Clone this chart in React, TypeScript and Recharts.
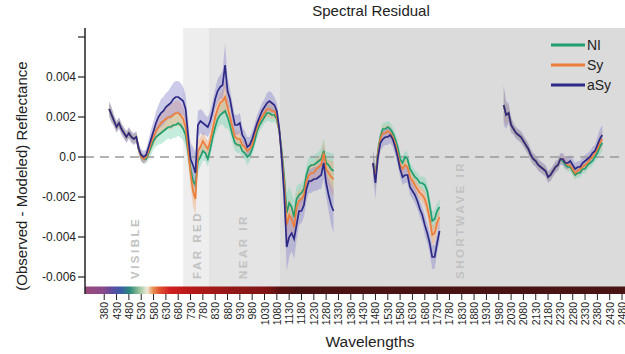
import React from "react";
import { ComposedChart, Line, Area, XAxis, YAxis, ReferenceArea, ReferenceLine } from "recharts";

// wavelengths (nm) of each measured segment; the water bands between them are gaps
const wl1 = [
  400, 410, 420, 430, 440, 450, 460, 470, 480, 490, 500, 510, 520, 530, 540, 550, 560, 570, 580, 590,
  600, 610, 620, 630, 640, 650, 660, 670, 680, 690, 700, 710, 720, 730, 740, 750, 760, 770, 780, 790,
  800, 810, 820, 830, 840, 850, 860, 870, 880, 890, 900, 910, 920, 930, 940, 950, 960, 970, 980, 990,
  1000, 1010, 1020, 1030, 1040, 1050, 1060, 1070, 1080, 1090, 1100, 1110, 1120, 1130, 1140, 1150, 1160,
  1170, 1180, 1190, 1200, 1210, 1220, 1230, 1240, 1250, 1260, 1270, 1280, 1290, 1300, 1310,
];
const wl2 = [
  1470, 1480, 1490, 1500, 1510, 1520, 1530, 1540, 1550, 1560, 1570, 1580, 1590, 1600, 1610, 1620, 1630,
  1640, 1650, 1660, 1670, 1680, 1690, 1700, 1710, 1720, 1730, 1740,
];
const wl3 = [
  2000, 2010, 2020, 2030, 2040, 2050, 2060, 2070, 2080, 2090, 2100, 2110, 2120, 2130, 2140, 2150, 2160,
  2170, 2180, 2190, 2200, 2210, 2220, 2230, 2240, 2250, 2260, 2270, 2280, 2290, 2300, 2310, 2320, 2330,
  2340, 2350, 2360, 2370, 2380, 2390, 2400,
];

const aSy1 = [
  0.0024, 0.0021, 0.0018, 0.0015, 0.0017, 0.0014, 0.0012, 0.001, 0.0012, 0.001, 0.0009, 0.001, 0.0004, 0.0001,
  0.0, 0.0001, 0.0005, 0.0009, 0.0013, 0.0017, 0.002, 0.0022, 0.0023, 0.0025, 0.0026, 0.0027, 0.0029, 0.003,
  0.003, 0.0029, 0.0028, 0.0024, 0.0011, -0.0001, -0.0004, -0.0008, 0.0016, 0.0018, 0.0017, 0.0016, 0.0015,
  0.0018, 0.0023, 0.0029, 0.0033, 0.0035, 0.0036, 0.0046, 0.0033, 0.0029, 0.0022, 0.0016, 0.0016, 0.0017,
  0.0011, 0.0009, 0.0005, 0.0006, 0.0009, 0.0013, 0.0017, 0.002, 0.0023, 0.0025, 0.0027, 0.0028, 0.0027,
  0.0026, 0.0023, 0.0014, -0.0001, -0.0019, -0.0045, -0.004, -0.0038, -0.0041, -0.0034, -0.0027, -0.0027,
  -0.0024, -0.0016, -0.0012, -0.0012, -0.0011, -0.0011, -0.001, -0.0009, -0.0003, -0.0013, -0.0019, -0.0024,
  -0.0027,
];
const sy1 = [
  0.0024, 0.0021, 0.0018, 0.0015, 0.0017, 0.0014, 0.0012, 0.001, 0.0012, 0.001, 0.0009, 0.001, 0.0004, 0.0,
  -0.0001, 0.0, 0.0003, 0.0007, 0.001, 0.0013, 0.0015, 0.0017, 0.0018, 0.0019, 0.002, 0.002, 0.0021, 0.0022,
  0.0022, 0.0021, 0.0019, 0.0015, 0.0004, -0.0008, -0.0017, -0.0021, 0.0003, 0.0005, 0.0008, 0.0006, 0.0004,
  0.0008, 0.0014, 0.002, 0.0024, 0.0027, 0.0028, 0.003, 0.0025, 0.002, 0.0015, 0.001, 0.0009, 0.0009, 0.0006,
  0.0005, 0.0003, 0.0004, 0.0006, 0.0011, 0.0015, 0.0018, 0.002, 0.0022, 0.0024, 0.0024, 0.0023, 0.0023,
  0.002, 0.0013, 0.0001, -0.0013, -0.0034, -0.0029, -0.0031, -0.0035, -0.0025, -0.0022, -0.0021, -0.0019,
  -0.0012, -0.0009, -0.0008, -0.0008, -0.0006, -0.0005, -0.0004, 0.0002, -0.0006, -0.0008, -0.001, -0.0011,
];
const ni1 = [
  0.0024, 0.0021, 0.0018, 0.0015, 0.0017, 0.0014, 0.0012, 0.001, 0.0012, 0.001, 0.0009, 0.001, 0.0004, 0.0,
  -0.0001, -0.0001, 0.0002, 0.0005, 0.0008, 0.001, 0.0011, 0.0012, 0.0013, 0.0014, 0.0015, 0.0015, 0.0016,
  0.0016, 0.0017, 0.0016, 0.0014, 0.0011, 0.0003, -0.0006, -0.0012, -0.0014, -0.0002, 0.0, 0.0003, 0.0002,
  -0.0001, 0.0004, 0.001, 0.0015, 0.0019, 0.0021, 0.0022, 0.0023, 0.002, 0.0016, 0.0011, 0.0007, 0.0006,
  0.0006, 0.0003, 0.0002, 0.0, 0.0001, 0.0004, 0.0008, 0.0013, 0.0016, 0.0018, 0.002, 0.0022, 0.0022, 0.0021,
  0.0021, 0.0019, 0.0013, 0.0003, -0.001, -0.0028, -0.0023, -0.0025, -0.003, -0.0021, -0.0019, -0.0018,
  -0.0016, -0.0009, -0.0005, -0.0004, -0.0004, -0.0003, -0.0002, -0.0001, 0.0003, -0.0003, -0.0004, -0.0006,
  -0.0007,
];
const spread1 = [
  0.0004, 0.0004, 0.0003, 0.0003, 0.0003, 0.0003, 0.0003, 0.0003, 0.0003, 0.0003, 0.0003, 0.0003, 0.0003,
  0.0003, 0.0003, 0.0003, 0.0004, 0.0005, 0.0005, 0.0006, 0.0006, 0.0007, 0.0007, 0.0007, 0.0007, 0.0008,
  0.0008, 0.0008, 0.0008, 0.0008, 0.0007, 0.0007, 0.0007, 0.0008, 0.0009, 0.001, 0.0007, 0.0006, 0.0006,
  0.0005, 0.0005, 0.0005, 0.0005, 0.0005, 0.0006, 0.0006, 0.0007, 0.0011, 0.0007, 0.0005, 0.0005, 0.0005,
  0.0005, 0.0005, 0.0004, 0.0004, 0.0005, 0.0004, 0.0004, 0.0004, 0.0004, 0.0004, 0.0004, 0.0004, 0.0005,
  0.0005, 0.0005, 0.0004, 0.0004, 0.0004, 0.0005, 0.0008, 0.0012, 0.001, 0.0009, 0.001, 0.0008, 0.0007,
  0.0006, 0.0006, 0.0006, 0.0006, 0.0006, 0.0006, 0.0006, 0.0006, 0.0007, 0.0008, 0.0007, 0.0008, 0.001,
  0.0011,
];

const aSy2 = [
  -0.0003, -0.0013, 0.0, 0.0007, 0.0009, 0.001, 0.001, 0.0011, 0.0009, 0.0005, 0.0, -0.0006, -0.001, -0.0009,
  -0.0009, -0.0015, -0.0017, -0.0019, -0.0022, -0.0026, -0.0029, -0.0034, -0.0038, -0.0043, -0.005, -0.005,
  -0.0043, -0.0037,
];
const sy2 = [
  -0.0003, -0.0011, 0.0002, 0.0009, 0.0012, 0.0012, 0.0013, 0.0012, 0.001, 0.0007, 0.0002, -0.0004, -0.0006,
  -0.0004, -0.0005, -0.001, -0.0012, -0.0014, -0.0016, -0.0018, -0.0019, -0.0021, -0.0025, -0.0031, -0.0039,
  -0.0038, -0.0033, -0.003,
];
const ni2 = [
  -0.0003, -0.001, 0.0003, 0.001, 0.0014, 0.0014, 0.0015, 0.0014, 0.0012, 0.0009, 0.0005, -0.0001, -0.0003,
  0.0, -0.0001, -0.0006, -0.0008, -0.001, -0.0011, -0.0013, -0.0013, -0.0014, -0.0017, -0.0024, -0.0032,
  -0.0031, -0.0027, -0.0025,
];
const spread2 = [
  0.0007, 0.0008, 0.0005, 0.0004, 0.0004, 0.0004, 0.0004, 0.0004, 0.0004, 0.0004, 0.0004, 0.0004, 0.0004,
  0.0004, 0.0004, 0.0004, 0.0004, 0.0004, 0.0004, 0.0004, 0.0004, 0.0005, 0.0005, 0.0005, 0.0006, 0.0006,
  0.0005, 0.0005,
];

const aSy3 = [
  0.0026, 0.0021, 0.0022, 0.0016, 0.0014, 0.0012, 0.0011, 0.001, 0.0008, 0.0006, 0.0004, 0.0001, -0.0001,
  -0.0002, -0.0004, -0.0005, -0.0006, -0.0007, -0.001, -0.0009, -0.0007, -0.0005, -0.0004, -0.0001, -0.0001,
  -0.0003, -0.0003, -0.0002, -0.0004, -0.0006, -0.0005, -0.0005, -0.0003, -0.0002, -0.0001, 0.0, 0.0002,
  0.0003, 0.0006, 0.0009, 0.0011,
];
const sy3 = [
  0.0026, 0.0021, 0.0022, 0.0016, 0.0014, 0.0012, 0.0011, 0.001, 0.0008, 0.0006, 0.0004, 0.0001, -0.0001,
  -0.0002, -0.0004, -0.0005, -0.0006, -0.0007, -0.001, -0.0009, -0.0007, -0.0005, -0.0004, -0.0001, -0.0001,
  -0.0003, -0.0004, -0.0004, -0.0006, -0.0008, -0.0007, -0.0006, -0.0005, -0.0004, -0.0003, -0.0001, 0.0,
  0.0002, 0.0004, 0.0007, 0.0009,
];
const ni3 = [
  0.0026, 0.0021, 0.0022, 0.0016, 0.0014, 0.0012, 0.0011, 0.001, 0.0008, 0.0006, 0.0004, 0.0001, -0.0001,
  -0.0002, -0.0004, -0.0005, -0.0006, -0.0007, -0.001, -0.0009, -0.0007, -0.0005, -0.0004, -0.0001, -0.0002,
  -0.0004, -0.0005, -0.0005, -0.0007, -0.0009, -0.0008, -0.0008, -0.0006, -0.0006, -0.0004, -0.0003, -0.0002,
  0.0, 0.0002, 0.0005, 0.0007,
];
const spread3 = [
  0.001, 0.0007, 0.0005, 0.0004, 0.0003, 0.0003, 0.0003, 0.0003, 0.0003, 0.0003, 0.0003, 0.0003, 0.0003,
  0.0003, 0.0003, 0.0003, 0.0003, 0.0003, 0.0003, 0.0003, 0.0003, 0.0003, 0.0003, 0.0003, 0.0003, 0.0003,
  0.0003, 0.0003, 0.0003, 0.0003, 0.0003, 0.0003, 0.0003, 0.0003, 0.0003, 0.0003, 0.0003, 0.0003, 0.0004,
  0.0005, 0.0005,
];

const xTicks = [
  380, 430, 480, 530, 580, 630, 680, 730, 780, 830, 880, 930, 980, 1030, 1080, 1130, 1180, 1230, 1280, 1330,
  1380, 1430, 1480, 1530, 1580, 1630, 1680, 1730, 1780, 1830, 1880, 1930, 1980, 2030, 2080, 2130, 2180, 2230,
  2280, 2330, 2380, 2430, 2480,
];
const yTicks = [-0.006, -0.004, -0.002, 0, 0.002, 0.004, 0.006];

const regions = [
  { name: "VISIBLE", from: 302, to: 700, fill: "#ffffff", dx: 50 },
  { name: "FAR RED", from: 700, to: 805, fill: "#eeeeee", dx: 14 },
  { name: "NEAR IR", from: 805, to: 1090, fill: "#e4e4e4", dx: 34 },
  { name: "SHORTWAVE IR", from: 1090, to: 2492, fill: "#dbdbdb", dx: 181 },
];

const series = [
  { key: "NI", color: "#1f9e6e", band: "#7fd6b6", k: 0.8 },
  { key: "Sy", color: "#ef7d3a", band: "#f5a676", k: 0.8 },
  { key: "aSy", color: "#2c2a86", band: "#8e8acf", k: 1 },
];

const segments = [
  { wl: wl1, NI: ni1, Sy: sy1, aSy: aSy1, spread: spread1 },
  { wl: wl2, NI: ni2, Sy: sy2, aSy: aSy2, spread: spread2 },
  { wl: wl3, NI: ni3, Sy: sy3, aSy: aSy3, spread: spread3 },
];

const rows: any[] = [];
segments.forEach((seg: any, si) => {
  if (si > 0) {
    const prev = segments[si - 1].wl;
    const gap: any = { wl: (prev[prev.length - 1] + seg.wl[0]) / 2 };
    series.forEach((s) => {
      gap[s.key] = null;
      gap[s.key + "Band"] = null;
    });
    rows.push(gap);
  }
  seg.wl.forEach((w: number, i: number) => {
    const r: any = { wl: w };
    series.forEach((s) => {
      const v = seg[s.key][i];
      const d = seg.spread[i] * s.k;
      r[s.key] = v;
      r[s.key + "Band"] = [v - d, v + d];
    });
    rows.push(r);
  });
});

const font = "'Liberation Sans', Arial, sans-serif";

const XTick = (props: any) => {
  const { x, y, payload } = props;
  return (
    <text
      transform={`translate(${x},${y}) rotate(-90)`}
      textAnchor="end"
      dominantBaseline="central"
      fontSize={10.5}
      fill="#222"
    >
      {payload.value}
    </text>
  );
};

const yFmt = (v: number) => {
  if (Math.abs(v) < 1e-9) return "0.0";
  if (v > 0.005) return "";
  return v.toFixed(3);
};

const RegionLabel = (dx: number, text: string) => (props: any) => {
  const vb = props.viewBox || {};
  return (
    <text
      transform={`translate(${vb.x + dx},279) rotate(-90)`}
      textAnchor="start"
      dominantBaseline="central"
      fontSize={11.5}
      fontWeight="bold"
      letterSpacing={2.5}
      fill="#c2c2c2"
    >
      {text}
    </text>
  );
};

export default function App() {
  return (
    <div style={{ position: "absolute", left: 0, top: 0, width: 625, height: 354, fontFamily: font, overflow: "hidden", background: "#fff" }}>
      <ComposedChart width={625} height={354} data={rows} margin={{ top: 28, right: 0, bottom: 0, left: 0 }}>
        <defs>
          <linearGradient id="spec" x1="0" y1="0" x2="1" y2="0">
            <stop offset="0%" stopColor="#9a4a7a" />
            <stop offset="3.3%" stopColor="#8a4a8a" />
            <stop offset="4.6%" stopColor="#6a4a9a" />
            <stop offset="6.5%" stopColor="#3a5aa8" />
            <stop offset="8.3%" stopColor="#2a8a7a" />
            <stop offset="10.2%" stopColor="#a0c8a0" />
            <stop offset="11.5%" stopColor="#f0ead8" />
            <stop offset="12.6%" stopColor="#e89050" />
            <stop offset="13.9%" stopColor="#e05030" />
            <stop offset="15.7%" stopColor="#d02020" />
            <stop offset="19.4%" stopColor="#b81818" />
            <stop offset="26.7%" stopColor="#941818" />
            <stop offset="33.7%" stopColor="#801414" />
            <stop offset="35.9%" stopColor="#5a1010" />
            <stop offset="39.6%" stopColor="#4a1212" />
            <stop offset="100%" stopColor="#4a1414" />
          </linearGradient>
        </defs>
        {regions.map((r) => (
          <ReferenceArea
            key={r.name}
            x1={r.from}
            x2={r.to}
            y1={-0.0065}
            y2={0.00645}
            fill={r.fill}
            fillOpacity={1}
            stroke="none"
            ifOverflow="visible"
            label={RegionLabel(r.dx, r.name)}
          />
        ))}
        <XAxis
          type="number"
          dataKey="wl"
          domain={[302, 2492]}
          ticks={xTicks}
          interval={0}
          allowDataOverflow
          height={60}
          tickSize={6}
          tickMargin={2}
          axisLine={false}
          tickLine={{ stroke: "#222" }}
          tick={<XTick />}
        />
        <YAxis
          type="number"
          domain={[-0.00685, 0.00645]}
          ticks={yTicks}
          interval={0}
          allowDataOverflow
          width={85}
          tickSize={7}
          tickMargin={2}
          tickFormatter={yFmt}
          axisLine={{ stroke: "#222", strokeWidth: 1.5 }}
          tickLine={{ stroke: "#222", strokeWidth: 1.2 }}
          tick={{ fill: "#222", fontSize: 12 }}
        />
        <ReferenceLine y={0} stroke="#9b9b9b" strokeWidth={1.6} strokeDasharray="9 6" />
        {series.map((s) => (
          <Area
            key={s.key + "Band"}
            type="linear"
            dataKey={s.key + "Band"}
            stroke="none"
            fill={s.band}
            fillOpacity={0.45}
            connectNulls={false}
            isAnimationActive={false}
            activeDot={false}
          />
        ))}
        {series.map((s) => (
          <Line
            key={s.key}
            type="linear"
            dataKey={s.key}
            stroke={s.color}
            strokeWidth={1.7}
            dot={false}
            activeDot={false}
            connectNulls={false}
            isAnimationActive={false}
          />
        ))}
        <ReferenceArea x1={302} x2={2492} y1={-0.00685} y2={-0.00648} fill="url(#spec)" fillOpacity={1} stroke="none" ifOverflow="visible" />
      </ComposedChart>
      <svg width={625} height={354} style={{ position: "absolute", left: 0, top: 0, pointerEvents: "none" }}>
        <text x={371} y={16} textAnchor="middle" fontSize={15} fill="#222">Spectral Residual</text>
        <text x={370} y={347} textAnchor="middle" fontSize={15.5} fill="#222">Wavelengths</text>
        <text transform="translate(27,176) rotate(-90)" textAnchor="middle" fontSize={15} fill="#222">
          (Observed - Modeled) Reflectance
        </text>
        {series.map((s, i) => (
          <g key={s.key}>
            <line x1={551} x2={585} y1={45 + i * 20} y2={45 + i * 20} stroke={s.color} strokeWidth={3} />
            <text x={587} y={45 + i * 20} dominantBaseline="central" fontSize={14} fill="#222">{s.key}</text>
          </g>
        ))}
      </svg>
    </div>
  );
}
